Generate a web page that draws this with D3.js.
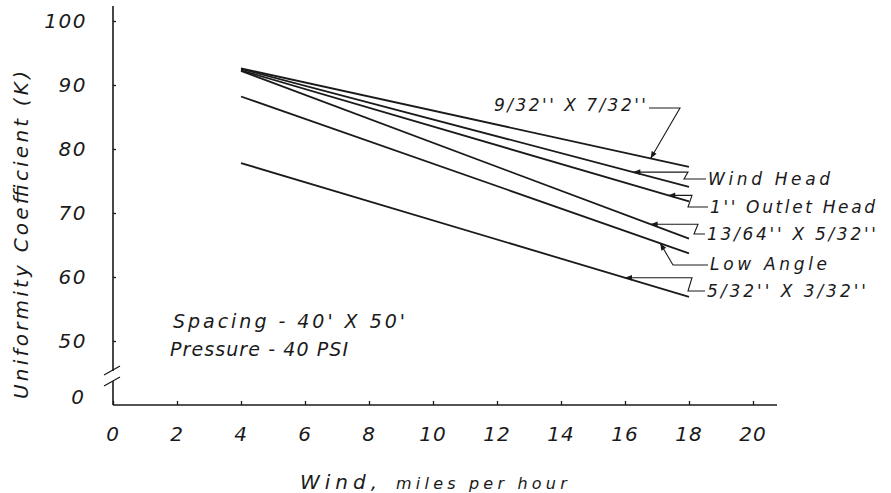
<!DOCTYPE html>
<html>
<head>
<meta charset="utf-8">
<script src="https://cdn.jsdelivr.net/npm/d3@7/dist/d3.min.js"></script>
<style>
  html, body { margin: 0; padding: 0; background: #fff; }
  svg { display: block; }
  text { font-family: "DejaVu Sans", sans-serif; font-style: oblique; fill: #1a1a1a; }
</style>
</head>
<body>
<div id="chart"></div>
<script>
// ---- data ----
const windRange = [4, 18];
const seriesNames = ["9/32'' X 7/32''", "Wind Head", "1'' Outlet Head", "13/64'' X 5/32''", "Low Angle", "5/32'' X 3/32''"];
const startValues = [92.6, 92.5, 92.3, 92.2, 88.2, 77.8];
const endValues   = [77.2, 74.1, 71.8, 66.0, 63.7, 56.9];
const arrowWinds  = [16.8, 16.26, 17.35, 16.8, 17.1, 16.0];
const xTicks = [0, 2, 4, 6, 8, 10, 12, 14, 16, 18, 20];
const xTickLabels = ["0", "2", "4", "6", "8", "10", "12", "14", "16", "18", "20"];
const yTicks = [50, 60, 70, 80, 90, 100];
const yTickLabels = ["50", "60", "70", "80", "90", "100"];
const yBreakLabel = "0";
const noteLines = ["Spacing -  40' X 50'", "Pressure - 40 PSI"];
const yTitle = "Uniformity Coefficient (K)";

// ---- layout ----
const W = 891, H = 493;
const svg = d3.select("#chart").append("svg").attr("width", W).attr("height", H);

const x = d3.scaleLinear().domain([0, 20]).range([113, 753]);
const y = d3.scaleLinear().domain([50, 100]).range([341, 21]);
const axisY = 405;
const ink = "#1a1a1a";

// axes
const axisG = svg.append("g").attr("stroke", ink).attr("stroke-width", 1.6).attr("fill", "none");
axisG.append("line").attr("x1", x(0)).attr("x2", x(0)).attr("y1", 6).attr("y2", 371);
axisG.append("line").attr("x1", x(0)).attr("x2", x(0)).attr("y1", 381).attr("y2", axisY);
axisG.append("line").attr("x1", x(0)).attr("x2", 777).attr("y1", axisY).attr("y2", axisY);
// break marks
axisG.append("line").attr("x1", 104).attr("y1", 375).attr("x2", 120).attr("y2", 366).attr("stroke-width", 1.3);
axisG.append("line").attr("x1", 104).attr("y1", 386).attr("x2", 120).attr("y2", 377).attr("stroke-width", 1.3);

// y ticks
const yAxis = d3.axisRight(y).tickValues(yTicks).tickSize(3).tickFormat("");
const gy = svg.append("g").attr("transform", `translate(${x(0)},0)`).call(yAxis);
gy.select(".domain").remove();
gy.selectAll(".tick line").attr("stroke", ink).attr("stroke-width", 1.3);
svg.append("g").selectAll("text").data(yTicks).join("text")
  .attr("x", 87).attr("y", d => y(d) + 7)
  .attr("text-anchor", "end").attr("font-size", 20).attr("letter-spacing", 1.5)
  .text((d, i) => yTickLabels[i]);
svg.append("text").attr("x", 84).attr("y", 404).attr("text-anchor", "end")
  .attr("font-size", 20).text(yBreakLabel);

// x ticks
const xAxis = d3.axisTop(x).tickValues(xTicks).tickSize(4).tickFormat("");
const gx = svg.append("g").attr("transform", `translate(0,${axisY})`).call(xAxis);
gx.select(".domain").remove();
gx.selectAll(".tick line").attr("stroke", ink).attr("stroke-width", 1.3);
svg.append("g").selectAll("text").data(xTicks).join("text")
  .attr("x", d => x(d)).attr("y", 441)
  .attr("text-anchor", "middle").attr("font-size", 20).attr("letter-spacing", 1)
  .text((d, i) => xTickLabels[i]);

// axis titles
svg.append("text")
  .attr("transform", "translate(28,235) rotate(-90)")
  .attr("text-anchor", "middle").attr("font-size", 20)
  .attr("textLength", 328).attr("lengthAdjust", "spacing")
  .text(yTitle);
const xt = svg.append("text").attr("x", 300).attr("y", 489).attr("font-size", 16);
xt.append("tspan").attr("font-size", 20).attr("letter-spacing", 5).text("Wind,");
xt.append("tspan").attr("dx", 14).attr("letter-spacing", 4.2).text("miles per hour");

// series lines
const series = seriesNames.map((n, i) => ({
  name: n,
  pts: [{w: windRange[0], v: startValues[i]}, {w: windRange[1], v: endValues[i]}]
}));
const line = d3.line().x(d => x(d.w)).y(d => y(d.v));
svg.append("g").selectAll("path").data(series).join("path")
  .attr("d", d => line(d.pts))
  .attr("fill", "none").attr("stroke", ink).attr("stroke-width", 1.8);

// notes
const noteLen = [232, 178];
svg.append("g").selectAll("text").data(noteLines).join("text")
  .attr("x", (d, i) => i === 0 ? 173 : 170)
  .attr("y", (d, i) => i === 0 ? 328 : 356)
  .attr("font-size", 19)
  .attr("textLength", (d, i) => noteLen[i]).attr("lengthAdjust", "spacing")
  .text(d => d);

// ---- annotations (leader layout) ----
const labelPos = [
  {tx: 494, ty: 111, tl: 152},
  {tx: 708, ty: 185, tl: 122},
  {tx: 710, ty: 213, tl: 165},
  {tx: 707, ty: 240, tl: 169},
  {tx: 710, ty: 270, tl: 117},
  {tx: 707, ty: 297, tl: 159}
];
const valueAt = (i, w) => startValues[i] + (endValues[i] - startValues[i]) * (w - windRange[0]) / (windRange[1] - windRange[0]);

svg.append("defs").append("marker")
  .attr("id", "arr").attr("viewBox", "0 0 10 10").attr("refX", 10).attr("refY", 5)
  .attr("markerWidth", 9).attr("markerHeight", 7).attr("markerUnits", "userSpaceOnUse")
  .attr("orient", "auto")
  .append("path").attr("d", "M0,1 L10,5 L0,9 Z").attr("fill", ink);

const leaders = seriesNames.map((n, i) => {
  const px = x(arrowWinds[i]), py = y(valueAt(i, arrowWinds[i]));
  const L = labelPos[i];
  let pts;
  if (i === 0) {
    pts = [[L.tx + L.tl + 3, 108], [680, 108], [px, py]];
  } else if (i === 4) {
    pts = [[L.tx - 2, L.ty - 5], [673, L.ty - 5], [px, py]];
  } else {
    const kx = [0, 688, 692, 698, 0, 692][i];
    const ya = py, yb = L.ty - 6;
    pts = [[L.tx - 2, yb], [kx - 4, yb], [kx, ya], [px, ya]];
  }
  return pts;
});
svg.append("g").selectAll("path").data(leaders).join("path")
  .attr("d", d => d3.line()(d))
  .attr("fill", "none").attr("stroke", ink).attr("stroke-width", 1.1)
  .attr("marker-end", "url(#arr)");

svg.append("g").selectAll("text").data(seriesNames).join("text")
  .attr("x", (d, i) => labelPos[i].tx).attr("y", (d, i) => labelPos[i].ty)
  .attr("font-size", 17)
  .attr("textLength", (d, i) => labelPos[i].tl).attr("lengthAdjust", "spacing")
  .text(d => d);
</script>
</body>
</html>
